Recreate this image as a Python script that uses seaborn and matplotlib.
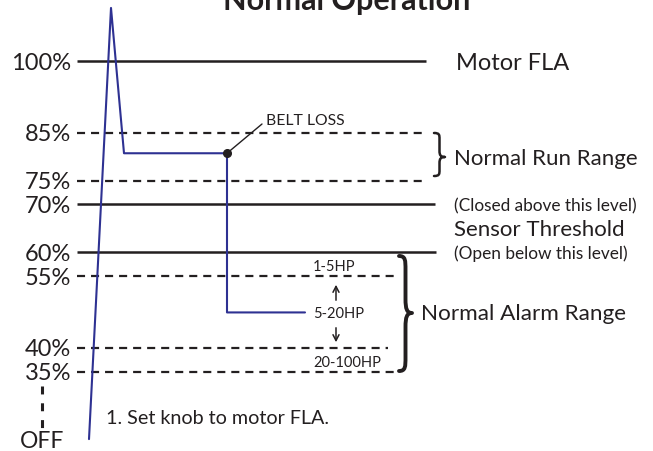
import numpy as np
import pandas as pd
import seaborn as sns
import matplotlib
matplotlib.use("Agg")
import matplotlib.pyplot as plt
from matplotlib.path import Path
from matplotlib.patches import PathPatch

# ---- data -------------------------------------------------------------
levels = [100, 85, 75, 70, 60, 55, 40, 35]
level_labels = ["100%", "85%", "75%", "70%", "60%", "55%", "40%", "35%"]
level_solid = [True, False, False, True, True, False, False, False]
level_end = [426, 422, 422, 435, 436, 397, 388, 398]

trace_t = [89, 111, 124, 227, 227, 305]
trace_pct = [20.9, 111.1, 80.7, 80.7, 47.4, 47.4]
belt_loss_t = 227
belt_loss_pct = 80.7

hp_labels = ["1-5HP", "5-20HP", "20-100HP"]
hp_pct = [57.3, 47.4, 37.2]

BLUE = "#2e3192"
INK = "#231f20"
sns.set_theme(style="white")
plt.rcParams["font.family"] = ["Lato", "DejaVu Sans"]

fig = plt.figure(figsize=(6.53, 4.51), dpi=100)
ax = fig.add_axes([0, 0, 1, 1])

K = 0.2092  # percent per pixel
def px2pct(py):
    return 100 - (py - 61) * K

# level lines
lw_line = 1.6
dash = (0, (5.8 / lw_line, 4.3 / lw_line))
for lv, lab, solid, xe in zip(levels, level_labels, level_solid, level_end):
    ax.hlines(lv, 77, xe, colors=INK, lw=lw_line if not solid else 1.8,
              linestyles="solid" if solid else dash)
    ax.text(71, lv, lab, ha="right", va="center_baseline", fontsize=17, color=INK)

# OFF
ax.plot([42, 42], [px2pct(386), px2pct(428)], color=INK, lw=2.2,
        linestyle=(0, (2.6, 2.9)), solid_capstyle="butt", dash_capstyle="butt")
ax.text(42, px2pct(440), "OFF", ha="center", va="center_baseline", fontsize=16.5, color=INK)

# trace
df = pd.DataFrame({"t": trace_t, "pct": trace_pct})
sns.lineplot(data=df, x="t", y="pct", sort=False, estimator=None, color=BLUE,
             lw=1.5, ax=ax)
ax.plot([belt_loss_t], [belt_loss_pct], "o", color=INK, ms=5.5, zorder=5)
ax.plot([belt_loss_t, 262], [belt_loss_pct, px2pct(124)], color=INK, lw=1.0)
ax.text(266, px2pct(119), "BELT LOSS", ha="left", va="center_baseline", fontsize=11.3, color=INK)

# HP labels and arrows
for lab, p in zip(hp_labels, hp_pct):
    ax.text(313, p, lab, ha="left", va="center_baseline", fontsize=10.5, color=INK)
ax.annotate("", xy=(336, px2pct(282)), xytext=(336, px2pct(303)),
            arrowprops=dict(arrowstyle="->,head_length=0.35,head_width=0.18", lw=1.1, color=INK))
ax.annotate("", xy=(336, px2pct(345)), xytext=(336, px2pct(325)),
            arrowprops=dict(arrowstyle="->,head_length=0.35,head_width=0.18", lw=1.1, color=INK))

# braces
def brace(x0, w, ytop, ybot, ymid, lw):
    h = ybot - ytop
    r = min(0.14 * h, 14)
    xm = x0 + 0.5 * w
    pts = [
        (x0, ytop),
        (xm, ytop), (xm, ytop + 0.3 * r), (xm, ytop + r),
        (xm, ymid - r),
        (xm, ymid - 0.3 * r), (x0 + 0.6 * w, ymid), (x0 + w, ymid),
        (x0 + 0.6 * w, ymid), (xm, ymid + 0.3 * r), (xm, ymid + r),
        (xm, ybot - r),
        (xm, ybot - 0.3 * r), (xm, ybot), (x0, ybot),
    ]
    codes = [Path.MOVETO, Path.CURVE4, Path.CURVE4, Path.CURVE4, Path.LINETO,
             Path.CURVE4, Path.CURVE4, Path.CURVE4, Path.CURVE4, Path.CURVE4, Path.CURVE4,
             Path.LINETO, Path.CURVE4, Path.CURVE4, Path.CURVE4]
    verts = [(x, px2pct(y)) for x, y in pts]
    ax.add_patch(PathPatch(Path(verts, codes), fill=False, lw=lw, edgecolor=INK,
                           capstyle="round", joinstyle="round"))

brace(434, 11, 133, 176, 157, 1.8)
brace(399, 13, 256, 371, 313, 2.8)

# right side texts
ax.text(456, 100, "Motor FLA", ha="left", va="center_baseline", fontsize=17, color=INK)
ax.text(454, 80, "Normal Run Range", ha="left", va="center_baseline", fontsize=16, color=INK)
ax.text(454, 70, "(Closed above this level)", ha="left", va="center_baseline", fontsize=12.4, color=INK)
ax.text(454, 65, "Sensor Threshold", ha="left", va="center_baseline", fontsize=16, color=INK)
ax.text(454, 60, "(Open below this level)", ha="left", va="center_baseline", fontsize=12.4, color=INK)
ax.text(421, 47.4, "Normal Alarm Range", ha="left", va="center_baseline", fontsize=16.2, color=INK)
ax.text(106, px2pct(417), "1. Set knob to motor FLA.", ha="left", va="center_baseline", fontsize=14.2, color=INK)

# title (cut off at the top, as in the original)
ax.text(347, px2pct(10), "Normal Operation", ha="center", va="baseline", fontsize=22,
        fontweight="bold", color=INK)

ax.set_xlim(0, 653)
ax.set_ylim(px2pct(451), px2pct(0))
ax.axis("off")
if ax.get_legend():
    ax.get_legend().remove()

fig.savefig("out.png", dpi=100, facecolor="white")
